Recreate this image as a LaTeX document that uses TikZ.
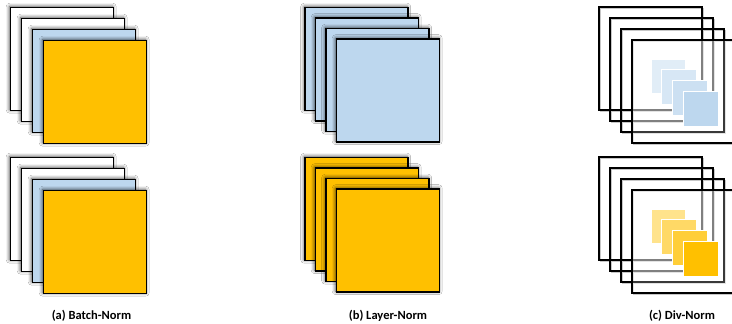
\documentclass[tikz,border=0pt]{standalone}
\usepackage{fontspec}
\setmainfont{Carlito}
\usetikzlibrary{calc,shadows.blur}
\definecolor{amber}{HTML}{FFC000}
\definecolor{paleblue}{HTML}{BDD7EE}
\tikzset{
  sheet/.style={draw=black, line width=1.4pt, minimum size=103pt, anchor=north west,
    inner sep=0pt, outer sep=0pt,
    blur shadow={shadow xshift=-0.8pt, shadow yshift=0.8pt, shadow blur radius=3.5pt, shadow opacity=75}},
  frame/.style={draw=black, line width=1.4pt, minimum size=103pt, anchor=north west,
    inner sep=0pt, outer sep=0pt},
  frameshade/.style={draw=black!22, line width=1pt, minimum size=103pt, anchor=north west,
    inner sep=0pt, outer sep=0pt},
  tile/.style={draw=white, line width=0.8pt, minimum size=34.5pt, anchor=north west,
    inner sep=0pt, outer sep=0pt},
  caption/.style={font=\bfseries\fontsize{12.5}{14}\selectfont, inner sep=0pt}
}
% a stack of four sheets: #1 name, #2 x, #3 y, #4 step, #5..#8 fills from back to front
\newcommand\sheetstack[8]{%
  \node[sheet, fill=#5] (#1-1) at (#2,#3) {};
  \node[sheet, fill=#6] (#1-2) at ($(#2,#3)+(#4,#4)$) {};
  \node[sheet, fill=#7] (#1-3) at ($(#2,#3)+(2*#4,2*#4)$) {};
  \node[sheet, fill=#8] (#1-4) at ($(#2,#3)+(3*#4,3*#4)$) {};
}
% open frames with small tiles inside: #1 name, #2 x, #3 y, #4 tile colour
\newcommand\tilestack[4]{%
  \foreach \k in {0,1,2,3} {
    \node[frameshade] at ($(#2,#3)+(11*\k+1.2,11*\k+1.2)$) {};
  }
  \foreach \k in {1,2,3} {
    \node[frame] (#1-\k) at ($(#2,#3)+(11*\k-11,11*\k-11)$) {};
  }
  \node[frame, fill=white, fill opacity=0.5] (#1-4) at ($(#2,#3)+(33,33)$) {};
  \begin{scope}
    \clip (#1-4.north west) rectangle (#1-4.south east);
    \draw[black, line width=1.4pt, opacity=0.55] (#1-3.north west) rectangle (#1-3.south east);
  \end{scope}
  \node[tile, fill=#4!45!white] (#1-t1) at ($(#2,#3)+(52,52)$) {};
  \node[tile, fill=#4!60!white] (#1-t2) at ($(#2,#3)+(62.8,62.8)$) {};
  \node[tile, fill=#4!78!white] (#1-t3) at ($(#2,#3)+(73.6,73.6)$) {};
  \node[tile, fill=#4] (#1-t4) at ($(#2,#3)+(84.4,84.4)$) {};
}
\begin{document}
\begin{tikzpicture}[x=1pt, y=-1pt]
  \useasboundingbox[fill=white] (0,0) rectangle (732,324);

  % (a) batch normalisation
  \sheetstack{at}{10.5}{7.5}{11}{white}{white}{paleblue}{amber}
  \sheetstack{ab}{10.5}{157.5}{11}{white}{white}{paleblue}{amber}

  % (b) layer normalisation
  \sheetstack{bt}{305}{7.5}{10.5}{paleblue}{paleblue}{paleblue}{paleblue}
  \sheetstack{bb}{305}{157.5}{10.5}{amber}{amber}{amber}{amber}

  % (c) div normalisation
  \tilestack{ct}{599}{7}{paleblue}
  \tilestack{cb}{599}{157}{amber}

  % captions
  \node[caption] (capA) at (91.5,316) {(a) Batch-Norm};
  \node[caption] (capB) at (388,316) {(b) Layer-Norm};
  \node[caption] (capC) at (682,316) {(c) Div-Norm};
\end{tikzpicture}
\end{document}
